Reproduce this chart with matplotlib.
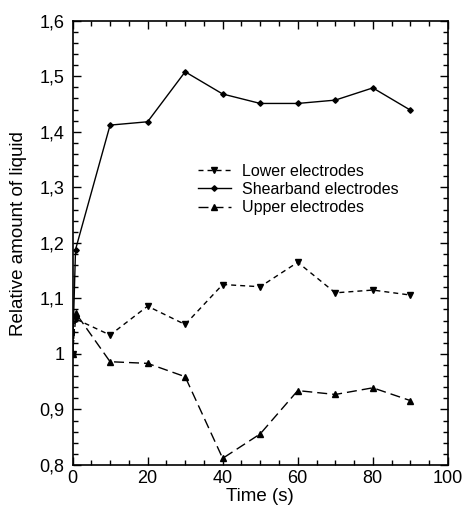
import matplotlib
matplotlib.use("Agg")
import matplotlib.pyplot as plt
from matplotlib.ticker import MultipleLocator, FuncFormatter

plt.rcParams["font.family"] = ["Liberation Sans", "DejaVu Sans"]

# time axis (s); first two samples are the start (0 s) and the jump right after
time_s = [0, 0.8, 10, 20, 30, 40, 50, 60, 70, 80, 90]

lower = [1.0, 1.063, 1.034, 1.086, 1.053, 1.125, 1.121, 1.165, 1.110, 1.115, 1.106]
shearband = [1.0, 1.188, 1.412, 1.418, 1.508, 1.468, 1.451, 1.451, 1.457, 1.479, 1.439]
upper = [1.0, 1.074, 0.986, 0.983, 0.959, 0.812, 0.856, 0.934, 0.927, 0.939, 0.916]

labels = ["Lower electrodes", "Shearband electrodes", "Upper electrodes"]


def comma_fmt(v, pos):
    s = f"{v:.1f}"
    if s.endswith(".0"):
        s = s[:-2]
    return s.replace(".", ",")


fig = plt.figure(figsize=(4.68, 5.11), dpi=100)
ax = fig.add_axes([0.155, 0.09, 0.802, 0.8695])

ax.plot(time_s, lower, color="black", lw=1.0, linestyle=(0, (3.6, 2.9)),
        marker="v", markersize=4, label=labels[0])
ax.plot(time_s, shearband, color="black", lw=1.0, linestyle="-",
        marker="D", markersize=2.8, label=labels[1])
ax.plot(time_s, upper, color="black", lw=1.0, linestyle=(0, (7.2, 3.6)),
        marker="^", markersize=4, label=labels[2])

ax.set_xlim(0, 100)
ax.set_ylim(0.8, 1.6)
ax.xaxis.set_major_locator(MultipleLocator(20))
ax.xaxis.set_minor_locator(MultipleLocator(5))
ax.yaxis.set_major_locator(MultipleLocator(0.1))
ax.yaxis.set_minor_locator(MultipleLocator(0.02))
ax.yaxis.set_major_formatter(FuncFormatter(comma_fmt))

ax.tick_params(which="both", direction="in", top=True, right=True,
               labelsize=13, width=1.0)
ax.tick_params(axis="y", pad=6)
ax.tick_params(which="major", length=6)
ax.tick_params(which="minor", length=3.5)
for sp in ax.spines.values():
    sp.set_linewidth(1.2)

ax.set_xlabel("Time (s)", fontsize=13.5, labelpad=1)
ax.set_ylabel("Relative amount of liquid", fontsize=13.5)
ax.yaxis.set_label_coords(-0.122, 0.52)

ax.legend(loc="upper left", bbox_to_anchor=(0.325, 0.685), frameon=False,
          fontsize=11.5, handlelength=2.1, handletextpad=0.7,
          labelspacing=0.2, borderpad=0.2, borderaxespad=0.0)

fig.savefig("out.png", dpi=100)
